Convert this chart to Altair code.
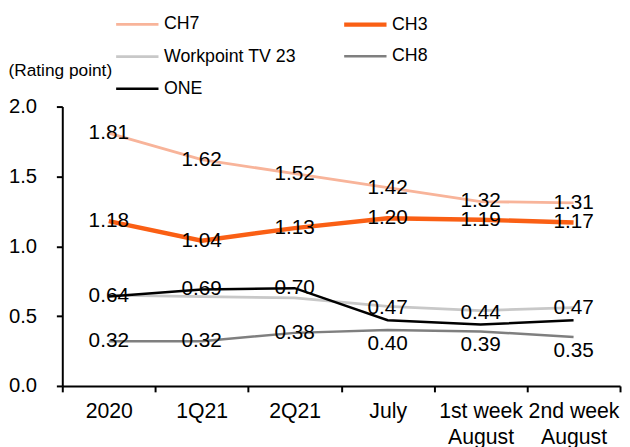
import altair as alt
import pandas as pd

categories = ["2020", "1Q21", "2Q21", "July", "1st week\nAugust", "2nd week\nAugust"]
series = ["CH7", "CH3", "Workpoint TV 23", "CH8", "ONE"]
ch7 = [1.81, 1.62, 1.52, 1.42, 1.32, 1.31]
ch3 = [1.18, 1.04, 1.13, 1.20, 1.19, 1.17]
workpoint = [0.65, 0.64, 0.63, 0.57, 0.54, 0.56]
ch8 = [0.32, 0.32, 0.38, 0.40, 0.39, 0.35]
one = [0.64, 0.69, 0.70, 0.47, 0.44, 0.47]
y_ticks = [0, 0.5, 1.0, 1.5, 2.0]

colors = ["#F8B49A", "#FA5F14", "#C8C8C8", "#7F7F7F", "#000000"]
widths = [2.8, 4.5, 2.8, 2.5, 2.5]

# data label placement per series (None: no labels)
label_pos = {
    "CH7": ["center"] * 6,
    "CH3": ["center"] * 6,
    "Workpoint TV 23": None,
    "CH8": ["center", "center", "center", "below", "below", "below"],
    "ONE": ["center", "center", "center", "above", "above", "above"],
}
draw_order = ["Workpoint TV 23", "CH8", "ONE", "CH7", "CH3"]
values = {"CH7": ch7, "CH3": ch3, "Workpoint TV 23": workpoint, "CH8": ch8, "ONE": one}

rows = []
for s in draw_order:
    for i, c in enumerate(categories):
        rows.append({
            "series": s,
            "cat": c,
            "value": values[s][i],
            "pos": label_pos[s][i] if label_pos[s] else "none",
            "idx": i,
        })
df = pd.DataFrame(rows)

FONT = "Liberation Sans"

legend = alt.Legend(
    orient="none", legendX=63, legendY=-96, columns=2, direction="horizontal",
    title=None, symbolType="M-2,0H2", symbolSize=460, labelOffset=14,
    columnPadding=39, rowPadding=11, labelFontSize=18, labelFont=FONT,
    labelColor="#000000", padding=0, labelLimit=0,
)

x_enc = alt.X(
    "cat:N", sort=categories, title=None,
    scale=alt.Scale(type="band", paddingInner=0, paddingOuter=0),
    axis=alt.Axis(
        labelAngle=0, labelFontSize=21.5, labelFont=FONT, labelColor="#000000",
        labelExpr="isValid(datum.value) ? split(datum.value, '\\n') : ''",
        labelLineHeight=26, labelPadding=9, tickSize=6, tickBand="extent",
        tickColor="#000000", tickWidth=2, domainColor="#000000", domainWidth=2,
        grid=False,
    ),
)
y_enc = alt.Y(
    "value:Q",
    scale=alt.Scale(domain=[0, 2], nice=False, zero=True),
    axis=alt.Axis(
        values=y_ticks, format=".1f", title="(Rating point)", titleAngle=0,
        titleAlign="left", titleBaseline="middle", titleX=-55, titleY=-36,
        titleFontWeight="normal", titleFontSize=17.5, titleFont=FONT,
        titleColor="#000000", labelFontSize=20.5, labelFont=FONT,
        labelColor="#000000", labelPadding=20, tickSize=6, tickColor="#000000",
        tickWidth=2, domainColor="#000000", domainWidth=2, grid=False,
    ),
)

base = alt.Chart(df)

lines = base.mark_line().encode(
    x=x_enc,
    y=y_enc,
    color=alt.Color("series:N", scale=alt.Scale(domain=series, range=colors), legend=legend),
    strokeWidth=alt.StrokeWidth(
        "series:N", scale=alt.Scale(type="ordinal", domain=series, range=widths), legend=legend
    ),
    order=alt.Order("idx:Q"),
    detail="series:N",
)


def labels(pos, dy):
    return base.transform_filter(alt.datum.pos == pos).mark_text(
        dy=dy, fontSize=21, font=FONT, color="#000000", baseline="middle", align="center"
    ).encode(
        x=alt.X("cat:N", sort=categories),
        y=alt.Y("value:Q"),
        text=alt.Text("value:Q", format=".2f"),
    )


chart = alt.layer(
    lines, labels("center", 0), labels("above", -12), labels("below", 14)
).properties(
    width=565, height=283,
    autosize=alt.AutoSizeParams(type="none"),
    padding={"left": 55, "top": 97, "right": 2, "bottom": 59},
).configure_view(stroke=None)

chart.save("out.html", embed_options={"renderer": "svg", "actions": False})
